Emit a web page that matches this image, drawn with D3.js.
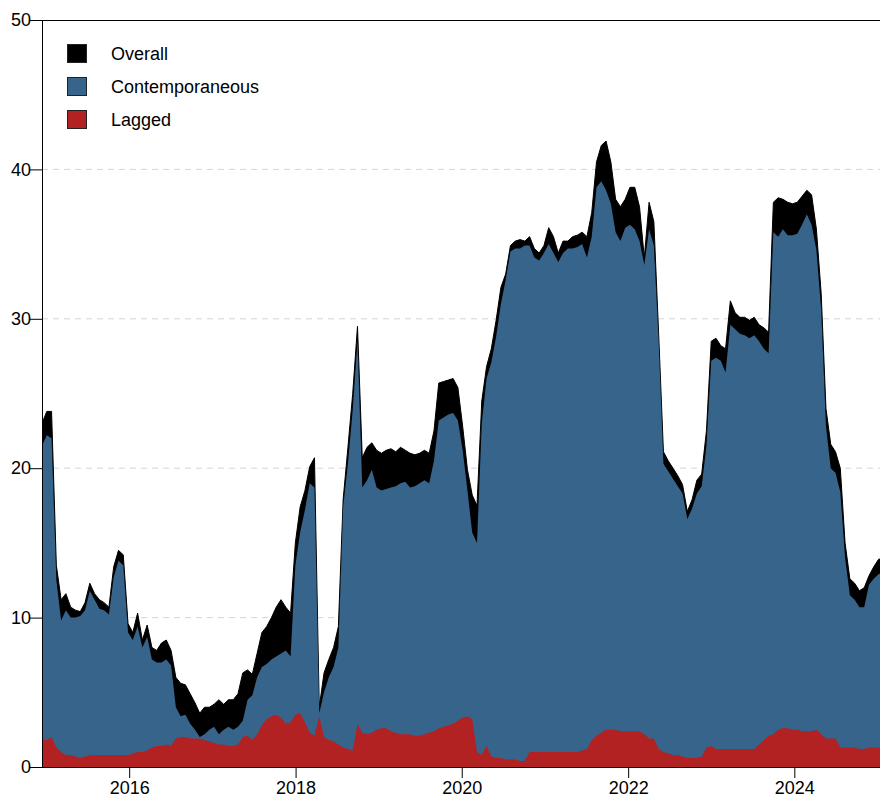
<!DOCTYPE html>
<html>
<head>
<meta charset="utf-8">
<script src="https://cdn.jsdelivr.net/npm/d3@7/dist/d3.min.js"></script>
<style>
  html, body { margin: 0; padding: 0; background: #fff; }
  svg { display: block; font-family: "Liberation Sans", Arial, sans-serif; }
</style>
</head>
<body>
<svg id="chart" width="880" height="797"></svg>
<script>
// Spillover index, sampled every 21 days starting 14 Dec 2014
const startDate = new Date(2014, 11, 14);
const stepDays = 21;

const overall = [
  23.0, 23.8, 23.8, 13.5, 11.2, 11.6, 10.7, 10.5, 10.4, 11.0,
  12.3, 11.6, 11.2, 11.0, 10.7, 13.4, 14.5, 14.2, 9.6, 9.0,
  10.3, 8.5, 9.5, 8.0, 7.8, 8.3, 8.5, 7.8, 6.0, 5.6,
  5.5, 4.9, 4.3, 3.6, 4.0, 4.0, 4.2, 4.5, 4.2, 4.5,
  4.5, 4.9, 6.3, 6.5, 6.2, 7.6, 9.0, 9.4, 10.0, 10.7,
  11.2, 10.7, 10.3, 15.0, 17.4, 18.5, 20.1, 20.7, 4.0, 6.3,
  7.2, 8.0, 9.4, 17.9, 21.4, 25.0, 29.5, 20.7, 21.4, 21.7,
  21.2, 21.0, 21.2, 21.3, 21.1, 21.4, 21.2, 21.0, 20.9, 21.0,
  21.2, 21.0, 22.5, 25.7, 25.8, 25.9, 26.0, 25.4, 22.8, 19.9,
  18.2, 17.5, 24.5, 26.8, 28.0, 29.9, 32.1, 33.0, 34.9, 35.2,
  35.3, 35.2, 35.5, 34.7, 34.4, 34.9, 36.1, 35.5, 34.4, 35.2,
  35.2, 35.5, 35.6, 35.8, 35.5, 37.1, 40.5, 41.6, 41.9, 40.5,
  38.0, 37.5, 38.0, 38.8, 38.8, 37.5, 34.1, 37.8, 36.5, 29.0,
  21.1, 20.5, 20.0, 19.5, 18.9, 17.1, 17.9, 19.2, 19.6, 22.5,
  28.5, 28.7, 28.2, 28.0, 31.2, 30.4, 30.1, 30.1, 29.9, 30.1,
  29.6, 29.4, 29.1, 37.8, 38.1, 38.0, 37.8, 37.7, 37.8, 38.2,
  38.6, 38.3, 36.0, 31.7, 24.0, 21.6, 21.1, 20.0, 15.0, 12.6,
  12.3, 11.8, 12.0, 12.8, 13.4, 13.9, 14.0
];

const contemporaneous = [
  21.5, 22.2, 22.0, 12.5, 9.8, 10.5, 10.0, 10.0, 10.1, 10.5,
  11.8, 11.2, 10.6, 10.5, 10.2, 12.7, 13.8, 13.5, 9.0, 8.5,
  9.4, 8.0, 8.7, 7.2, 7.0, 7.0, 7.2, 6.8, 4.0, 3.4,
  3.5, 2.9, 2.5, 2.0, 2.2, 2.5, 2.7, 2.2, 2.5, 2.7,
  2.5, 2.7, 3.1, 4.5, 4.8, 6.0, 6.7, 6.9, 7.2, 7.4,
  7.6, 7.8, 7.4, 13.5, 15.7, 17.2, 19.0, 18.7, 3.6, 5.0,
  6.0, 6.7, 8.0, 17.4, 20.3, 23.9, 28.5, 18.7, 19.2, 19.9,
  18.7, 18.5, 18.6, 18.7, 18.8, 19.0, 19.1, 18.7, 18.8, 19.0,
  19.2, 19.0, 20.5, 23.2, 23.4, 23.6, 23.7, 23.2, 21.2, 18.5,
  15.7, 15.0, 23.0, 26.0, 27.1, 28.8, 31.0, 32.6, 34.5, 34.7,
  34.7, 34.9, 34.9, 34.1, 33.9, 34.4, 35.0, 34.4, 33.8, 34.4,
  34.7, 34.7, 34.8, 35.0, 34.1, 35.5, 38.8, 39.2, 38.6, 37.7,
  35.8, 35.2, 36.1, 36.3, 36.0, 35.2, 33.6, 36.0, 34.9, 28.5,
  20.3, 19.8, 19.3, 18.8, 18.3, 16.6, 17.3, 18.3, 18.8, 21.5,
  27.2, 27.4, 27.2, 26.4, 29.6, 29.3, 29.0, 28.9, 28.7, 28.9,
  28.5, 28.0, 27.7, 35.8, 35.5, 36.0, 35.6, 35.6, 35.7, 36.3,
  37.0, 36.3, 34.6, 30.6, 22.8, 20.0, 19.7, 18.4, 14.0, 11.5,
  11.2, 10.7, 10.7, 12.2, 12.6, 12.9, 13.0
];

const lagged = [
  1.8, 1.8, 2.0, 1.3, 1.0, 0.8, 0.8, 0.7, 0.6, 0.7,
  0.8, 0.8, 0.8, 0.8, 0.8, 0.8, 0.8, 0.8, 0.8, 0.9,
  1.0, 1.0, 1.1, 1.3, 1.4, 1.4, 1.5, 1.4, 1.9, 2.0,
  2.0, 1.9, 1.9, 1.9, 1.8, 1.7, 1.6, 1.5, 1.5, 1.4,
  1.4, 1.5, 2.0, 2.1, 1.8, 2.2, 2.8, 3.2, 3.4, 3.5,
  3.3, 2.9, 3.0, 3.5, 3.6, 3.0, 2.3, 2.1, 3.4, 2.0,
  1.8, 1.7, 1.5, 1.3, 1.2, 1.1, 2.9, 2.3, 2.2, 2.3,
  2.5, 2.6, 2.6, 2.4, 2.3, 2.2, 2.2, 2.2, 2.1, 2.1,
  2.2, 2.3, 2.4, 2.6, 2.7, 2.8, 2.9, 3.1, 3.3, 3.4,
  3.2, 1.0, 0.8, 1.4, 0.7, 0.6, 0.6, 0.5, 0.5, 0.5,
  0.4, 0.4, 1.0, 1.0, 1.0, 1.0, 1.0, 1.0, 1.0, 1.0,
  1.0, 1.0, 1.0, 1.1, 1.2, 1.8, 2.1, 2.3, 2.5, 2.5,
  2.5, 2.4, 2.4, 2.4, 2.4, 2.4, 2.2, 1.9, 1.9, 1.2,
  1.0, 0.9, 0.8, 0.8, 0.7, 0.6, 0.6, 0.6, 0.7, 1.3,
  1.4, 1.2, 1.2, 1.2, 1.2, 1.2, 1.2, 1.2, 1.2, 1.2,
  1.5, 1.8, 2.1, 2.2, 2.5, 2.6, 2.6, 2.5, 2.5, 2.4,
  2.4, 2.4, 2.5, 2.2, 1.9, 1.9, 1.9, 1.3, 1.3, 1.3,
  1.3, 1.2, 1.2, 1.3, 1.3, 1.3, 1.3
];

const seriesNames = ["Overall", "Contemporaneous", "Lagged"];
const seriesColors = ["#000000", "#36648B", "#B22222"];
const xTickYears = [2016, 2018, 2020, 2022, 2024];
const yTickValues = [0, 10, 20, 30, 40, 50];

const svg = d3.select("#chart");
const plotLeft = 42, plotTop = 20, plotBottom = 767, plotRight = 884;

const dates = overall.map((_, i) => d3.timeDay.offset(startDate, i * stepDays));

const x = d3.scaleTime()
  .domain([startDate, new Date(2025, 0, 29)])
  .range([plotLeft, plotRight]);
const y = d3.scaleLinear().domain([0, 50]).range([plotBottom, plotTop]);

svg.append("defs").append("clipPath").attr("id", "plotClip")
  .append("rect").attr("x", plotLeft).attr("y", plotTop)
  .attr("width", plotRight - plotLeft).attr("height", plotBottom - plotTop);

// dashed horizontal gridlines
svg.append("g").selectAll("line")
  .data(yTickValues.filter(v => v > 0 && v < 50))
  .join("line")
  .attr("x1", plotLeft).attr("x2", plotRight)
  .attr("y1", d => y(d)).attr("y2", d => y(d))
  .attr("stroke", "#d4d4d4").attr("stroke-width", 1)
  .attr("stroke-dasharray", "6,5");

// overlapping areas: total, then contemporaneous, then lagged on top
const plot = svg.append("g").attr("clip-path", "url(#plotClip)");
[overall, contemporaneous, lagged].forEach((vals, k) => {
  const area = d3.area()
    .x((d, i) => x(dates[i]))
    .y0(y(0))
    .y1(d => y(d));
  plot.append("path")
    .datum(vals)
    .attr("d", area)
    .attr("fill", seriesColors[k])
    .attr("stroke", k === 0 ? "#000" : "none")
    .attr("stroke-width", 1);
});

// frame: left and top edges
svg.append("line").attr("x1", plotLeft + 0.5).attr("x2", plotLeft + 0.5)
  .attr("y1", plotTop).attr("y2", plotBottom).attr("stroke", "#000");
svg.append("line").attr("x1", plotLeft).attr("x2", plotRight)
  .attr("y1", plotTop + 0.5).attr("y2", plotTop + 0.5).attr("stroke", "#000");

// y axis
const yAxis = d3.axisLeft(y).tickValues(yTickValues).tickSize(13).tickPadding(0)
  .tickFormat(d3.format("d"));
const gy = svg.append("g").attr("transform", `translate(${plotLeft},0)`).call(yAxis);
gy.select(".domain").remove();
gy.selectAll(".tick line").attr("stroke", "#000");
gy.selectAll(".tick text")
  .attr("font-size", 18).attr("fill", "#000").attr("x", -11)
  .attr("font-family", "Liberation Sans, Arial, sans-serif");

// x axis
const xAxis = d3.axisBottom(x)
  .tickValues(xTickYears.map(yr => new Date(yr, 0, 1)))
  .tickFormat(d3.timeFormat("%Y")).tickSize(11).tickPadding(3);
const gx = svg.append("g").attr("transform", `translate(0,${plotBottom})`).call(xAxis);
gx.select(".domain").attr("d", `M${plotLeft},0.5H${plotRight}`).attr("stroke", "#000");
gx.selectAll(".tick line").attr("stroke", "#000");
gx.selectAll(".tick text")
  .attr("font-size", 18).attr("fill", "#000")
  .attr("font-family", "Liberation Sans, Arial, sans-serif");

// legend
const legend = svg.append("g").attr("transform", "translate(67,44)");
seriesNames.forEach((name, i) => {
  const g = legend.append("g").attr("transform", `translate(0,${i * 33})`);
  g.append("rect").attr("x", 0.5).attr("y", 0.5).attr("width", 19).attr("height", 18)
    .attr("fill", seriesColors[i]).attr("stroke", "#222").attr("stroke-width", 1);
  g.append("text").attr("x", 44).attr("y", 9.5).attr("dy", "0.35em")
    .attr("font-size", 18).attr("fill", "#000").text(name);
});
</script>
</body>
</html>
